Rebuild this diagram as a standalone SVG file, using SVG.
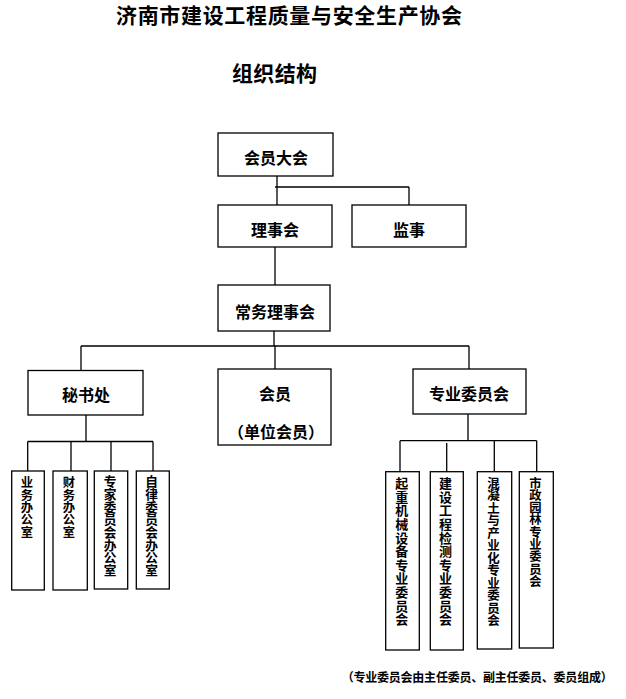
<svg xmlns="http://www.w3.org/2000/svg" width="626" height="699" viewBox="0 0 626 699">
<style>
text{font-family:"Noto Sans CJK SC","Noto Sans CJK JP",sans-serif;font-weight:700;fill:#000}
.t{font-size:21px}
.b{font-size:16px;text-anchor:middle}
.v{writing-mode:vertical-rl;font-size:12.3px}
.n{font-size:12px}
rect{fill:#fff;stroke:#000;stroke-width:1.3}
#connectors path{fill:none;stroke:#000;stroke-width:1.3}
</style>
<rect x="0" y="0" width="626" height="699" style="stroke:none"/>
<text class="t" x="116" y="23" textLength="346" lengthAdjust="spacing">济南市建设工程质量与安全生产协会</text>
<text class="t" x="232" y="81" textLength="85" lengthAdjust="spacing">组织结构</text>
<g id="connectors">
<path d="M277,176V187M275,187H409M277,187V205M409,187V205"/>
<path d="M275,247V285"/>
<path d="M274,331V346M81,346H469M81,346V370.5M275,346V369M469,346V369"/>
<path d="M86,415V441.5M27.7,441.5H153M27.7,441.5V471M71,441.5V471M111,441.5V471M153,441.5V471"/>
<path d="M468,414V440.7M400,440.7H536.7M400,440.7V471.7M446.7,443V471.7M494.3,440.7V471.7M536.7,440.7V471.7"/>
</g>
<g id="n_hydh"><rect x="218" y="133" width="115" height="43"/><text class="b" x="276" y="164">会员大会</text></g>
<g id="n_lsh"><rect x="218" y="205" width="114" height="42"/><text class="b" x="275" y="236">理事会</text></g>
<g id="n_js"><rect x="352" y="205" width="114" height="42"/><text class="b" x="409" y="236">监事</text></g>
<g id="n_cwlsh"><rect x="218" y="285" width="112" height="46"/><text class="b" x="275" y="318">常务理事会</text></g>
<g id="n_msc"><rect x="28" y="370.5" width="115" height="44.5"/><text class="b" x="86" y="401">秘书处</text></g>
<g id="n_hy"><rect x="218" y="369" width="113" height="76"/><text class="b" x="275" y="400">会员</text><text class="b" x="276" y="438">（单位会员）</text></g>
<g id="n_zywyh"><rect x="413" y="369" width="113" height="45"/><text class="b" x="469" y="400">专业委员会</text></g>
<g id="n_ywbgs"><rect x="11.7" y="471" width="32.6" height="119"/><text class="v" x="27" y="476.5">业务办公室</text></g>
<g id="n_cwbgs"><rect x="53" y="471" width="34.3" height="119"/><text class="v" x="69" y="476.5">财务办公室</text></g>
<g id="n_zjwyh"><rect x="94.3" y="471" width="33.4" height="118"/><text class="v" x="110" y="475" style="font-size:12.7px">专家委员会办公室</text></g>
<g id="n_zlwyh"><rect x="136.3" y="471" width="33" height="118"/><text class="v" x="151.7" y="475" style="font-size:12.7px">自律委员会办公室</text></g>
<g id="n_qzjx"><rect x="385.7" y="471.7" width="33.6" height="178.3"/><text class="v" x="401.7" y="476.7" style="font-size:13px;letter-spacing:0.6px">起重机械设备专业委员会</text></g>
<g id="n_jsgc"><rect x="430.3" y="471.7" width="33" height="178.3"/><text class="v" x="445.5" y="476.7" style="font-size:13px;letter-spacing:0.6px">建设工程检测专业委员会</text></g>
<g id="n_hnt"><rect x="477.3" y="471.7" width="34.4" height="177.3"/><text class="v" x="493.5" y="476.7" style="font-size:12.5px">混凝土与产业化专业委员会</text></g>
<g id="n_szyl"><rect x="519.3" y="471.7" width="34" height="176.3"/><text class="v" x="535.5" y="476.7">市政园林专业委员会</text></g>
<text class="n" x="341.7" y="682" textLength="271" lengthAdjust="spacing">（专业委员会由主任委员、副主任委员、委员组成）</text>
</svg>
